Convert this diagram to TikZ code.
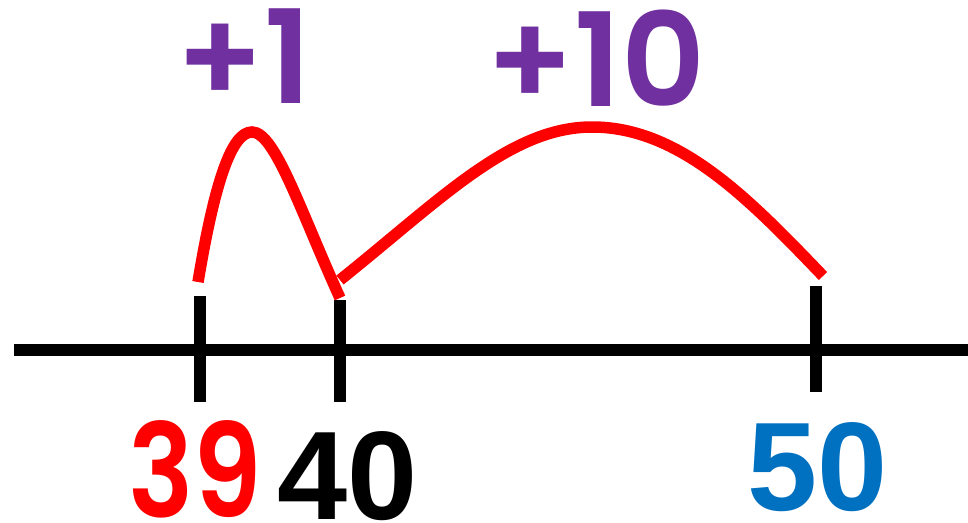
\documentclass[tikz,border=0pt]{standalone}
\usepackage{fontspec}
\newfontfamily\popfont{Poppins}[UprightFont={* SemiBold}]
\newfontfamily\popnarrow{Poppins}[UprightFont={* SemiBold},FakeStretch=0.84]
\newfontfamily\arialfont{Liberation Sans}[UprightFont={* Bold}]
\definecolor{myred}{HTML}{FF0000}
\definecolor{mypurple}{HTML}{7030A0}
\definecolor{myblue}{HTML}{0070C0}
\begin{document}
\begin{tikzpicture}[x=1pt,y=-1pt,
  axis/.style={line width=12pt,black},
  tickmark/.style={line width=12pt,black},
  jump/.style={line width=11.5pt,myred},
  numlab/.style={inner sep=0pt,anchor=base},
  poplab/.style={numlab,font=\popfont\fontsize{130}{130}\selectfont},
  narlab/.style={numlab,font=\popnarrow\fontsize{130}{130}\selectfont},
  arlab/.style={numlab,font=\arialfont\fontsize{126}{126}\selectfont}]
\useasboundingbox (0,0) rectangle (968,522);
% axis
\coordinate (axL) at (14,350);
\coordinate (axR) at (968,350);
\draw[axis] (axL) -- (axR);
% ticks
\coordinate (t1a) at (200,296); \coordinate (t1b) at (200,402);
\coordinate (t2a) at (340,300); \coordinate (t2b) at (340,402);
\coordinate (t3a) at (816,286); \coordinate (t3b) at (816,392);
\draw[tickmark] (t1a) -- (t1b);
\draw[tickmark] (t2a) -- (t2b);
\draw[tickmark] (t3a) -- (t3b);
% jumps
\coordinate (j1s) at (198,282);
\coordinate (j1p) at (252,132);
\coordinate (j1e) at (340,298);
\coordinate (j2s) at (340,280);
\coordinate (j2p) at (592,127);
\coordinate (j2e) at (823,276);
\draw[jump] (j1s) .. controls (215,180) and (232,132) .. (j1p)
  .. controls (275,132) and (300,210) .. (j1e);
\draw[jump] (j2s) .. controls (440,200) and (510,127) .. (j2p)
  .. controls (680,127) and (750,200) .. (j2e);
% labels
\node[narlab,text=myred] (n39) at (195,517) {39};
\node[arlab,text=black] (n40) at (348,519) {40};
\node[arlab,text=myblue] (n50) at (818,510) {50};
\node[poplab,text=mypurple] (p1) at (244,103) {+1};
\node[poplab,text=mypurple] (p10) at (596,106) {+10};
\end{tikzpicture}
\end{document}
